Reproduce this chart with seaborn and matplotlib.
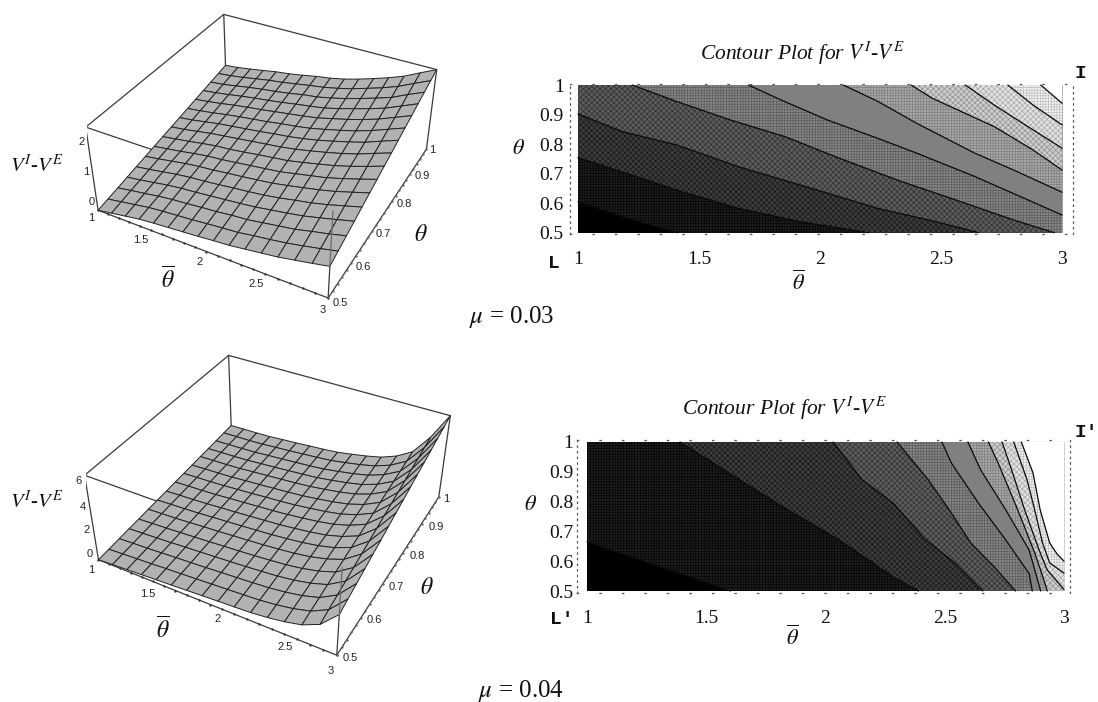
#V^I-V^E surface and contour panels for two values of mu
import numpy as np
import matplotlib
matplotlib.use('Agg')
import matplotlib.pyplot as plt
import seaborn as sns

W, H = 1098, 702

sns.set_theme(style='white', rc={'hatch.linewidth': 0.45, 'mathtext.fontset': 'stix'})
plt.rcParams['font.family'] = ['Liberation Serif', 'DejaVu Sans']

#surface values, rows = theta, columns = theta bar
theta_bar_grid = [1, 1.133, 1.267, 1.4, 1.533, 1.667, 1.8, 1.933, 2.067, 2.2, 2.333, 2.467, 2.6, 2.733, 2.867, 3]
theta_grid = [.5, .533, .567, .6, .633, .667, .7, .733, .767, .8, .833, .867, .9, .933, .967, 1]

v_003 = [
    [-.25, -.17, -.09, -.01, .04, .08, .12, .16, .21, .25, .32, .39, .46, .56, .66, .77],
    [-.19, -.11, -.03, .05, .10, .14, .18, .23, .28, .32, .40, .47, .55, .65, .76, .88],
    [-.13, -.05, .02, .10, .16, .20, .25, .29, .35, .39, .47, .55, .63, .75, .86, .99],
    [-.07, 0, .08, .16, .22, .26, .31, .36, .41, .47, .55, .63, .72, .84, .97, 1.10],
    [-.01, .06, .14, .22, .28, .32, .37, .43, .48, .54, .62, .72, .81, .93, 1.07, 1.21],
    [.05, .12, .20, .28, .34, .38, .44, .49, .55, .61, .70, .80, .90, 1.02, 1.17, 1.32],
    [.11, .18, .25, .33, .40, .44, .50, .56, .62, .68, .78, .88, .98, 1.12, 1.27, 1.43],
    [.17, .24, .31, .39, .46, .50, .56, .63, .69, .75, .85, .96, 1.07, 1.21, 1.37, 1.54],
    [.23, .29, .37, .45, .51, .57, .63, .69, .75, .83, .93, 1.04, 1.16, 1.30, 1.48, 1.65],
    [.29, .35, .43, .51, .57, .63, .69, .76, .82, .90, 1.00, 1.12, 1.25, 1.39, 1.58, 1.76],
    [.35, .41, .48, .56, .63, .69, .75, .83, .89, .97, 1.08, 1.20, 1.33, 1.49, 1.68, 1.87],
    [.41, .47, .54, .62, .69, .75, .82, .89, .96, 1.04, 1.16, 1.28, 1.42, 1.58, 1.78, 1.98],
    [.47, .53, .60, .68, .75, .81, .88, .96, 1.03, 1.11, 1.23, 1.37, 1.51, 1.67, 1.88, 2.09],
    [.53, .58, .66, .74, .81, .87, .94, 1.03, 1.09, 1.19, 1.31, 1.45, 1.60, 1.76, 1.99, 2.20],
    [.59, .64, .71, .79, .87, .93, 1.01, 1.09, 1.16, 1.26, 1.38, 1.53, 1.68, 1.86, 2.09, 2.31],
    [.65, .70, .77, .85, .93, .99, 1.07, 1.16, 1.23, 1.33, 1.46, 1.61, 1.77, 1.95, 2.19, 2.42],
]

v_004 = [
    [-.30, -.23, -.17, -.10, -.03, .03, .10, .17, .24, .30, .37, .51, .71, 1.01, 1.60, 2.90],
    [-.26, -.19, -.13, -.07, .01, .07, .14, .21, .28, .35, .43, .58, .80, 1.13, 1.78, 3.13],
    [-.21, -.15, -.10, -.03, .04, .10, .17, .25, .32, .40, .49, .65, .88, 1.24, 1.96, 3.35],
    [-.17, -.11, -.06, 0, .08, .14, .21, .28, .36, .45, .55, .72, .97, 1.36, 2.14, 3.58],
    [-.13, -.07, -.02, .04, .11, .17, .25, .32, .40, .50, .61, .79, 1.06, 1.47, 2.32, 3.81],
    [-.08, -.03, .01, .07, .15, .21, .29, .36, .44, .55, .67, .86, 1.15, 1.59, 2.50, 4.03],
    [-.04, .01, .05, .10, .18, .25, .32, .40, .48, .60, .73, .93, 1.23, 1.71, 2.68, 4.26],
    [0, .05, .09, .14, .22, .28, .36, .44, .52, .65, .79, .99, 1.32, 1.82, 2.86, 4.49],
    [.05, .09, .12, .17, .25, .32, .40, .47, .57, .70, .85, 1.06, 1.41, 1.94, 3.04, 4.71],
    [.09, .13, .16, .21, .29, .35, .44, .51, .61, .75, .91, 1.13, 1.50, 2.05, 3.22, 4.94],
    [.13, .17, .20, .24, .32, .39, .47, .55, .65, .80, .97, 1.20, 1.58, 2.17, 3.40, 5.17],
    [.18, .21, .23, .27, .36, .43, .51, .59, .69, .85, 1.03, 1.27, 1.67, 2.29, 3.58, 5.39],
    [.22, .25, .27, .31, .39, .46, .55, .63, .73, .90, 1.09, 1.34, 1.76, 2.40, 3.76, 5.62],
    [.26, .29, .31, .34, .43, .50, .58, .66, .77, .95, 1.15, 1.41, 1.85, 2.52, 3.94, 5.85],
    [.31, .33, .34, .38, .46, .53, .62, .70, .81, 1.00, 1.21, 1.48, 1.93, 2.63, 4.12, 6.07],
    [.35, .37, .38, .41, .50, .57, .66, .74, .85, 1.05, 1.27, 1.55, 2.02, 2.75, 4.30, 6.30],
]

#contour lines, (theta bar, theta)
lines_003 = [
    ([1, 1.2, 1.41], [.605, .55, .5]),
    ([1, 1.2, 1.408, 1.664, 1.92, 2.2], [.754, .701, .644, .582, .537, .5]),
    ([1, 1.184, 1.408, 1.664, 1.92, 2.24, 2.48, 2.656], [.902, .842, .797, .723, .661, .582, .537, .5]),
    ([1.224, 1.408, 1.632, 1.856, 2.08, 2.32, 2.56, 2.8, 2.968], [1, .944, .881, .825, .752, .678, .611, .543, .5]),
    ([1.704, 1.84, 2.032, 2.24, 2.4, 2.64, 3], [1, .949, .881, .819, .769, .69, .56]),
    ([2.096, 2.24, 2.4, 2.64, 2.8, 3], [1, .944, .87, .769, .712, .637]),
    ([2.376, 2.464, 2.72, 2.88, 3], [1, .955, .859, .78, .712]),
    ([2.6, 2.72, 2.88, 3], [1, .932, .848, .786]),
    ([2.776, 2.88, 3], [1, .932, .865]),
    ([2.912, 3], [1, .938]),
]

lines_004 = [
    ([1, 1.602], [.665, .5]),
    ([1.39, 1.797, 2.057, 2.285, 2.39], [1, .794, .671, .547, .5]),
    ([2.032, 2.154, 2.285, 2.415, 2.545, 2.659], [1, .873, .794, .676, .592, .5]),
    ([2.30, 2.431, 2.528, 2.61, 2.707, 2.797], [1, .873, .761, .66, .581, .5]),
    ([2.488, 2.528, 2.642, 2.756, 2.854, 2.867], [1, .929, .794, .671, .558, .5]),
    ([2.597, 2.65, 2.756, 2.854, 2.902], [1, .907, .772, .637, .5]),
    ([2.683, 2.724, 2.806, 2.877, 2.906, 2.93], [1, .929, .772, .628, .56, .5]),
    ([2.74, 2.78, 2.835, 2.9, 2.93, 3], [1, .907, .772, .628, .57, .505]),
    ([2.789, 2.845, 2.877, 2.91, 2.94, 3], [1, .873, .772, .661, .594, .56]),
    ([2.821, 2.87, 2.90, 2.94, 2.97, 3], [1, .896, .772, .661, .625, .60]),
]

#band styles, darkest first: face, hatch, hatch colour
bands = [
    ('#000000', None, None),
    ('#1e1e1e', '++++++', '#050505'),
    ('#3c3c3c', 'xxxxxx', '#141414'),
    ('#5c5c5c', 'xxxxxx', '#2c2c2c'),
    ('#868686', '++++++', '#5a5a5a'),
    ('#808080', None, None),
    ('#a8a8a8', '++++++', '#7c7c7c'),
    ('#cccccc', 'xxxxxx', '#8c8c8c'),
    ('#e0e0e0', 'xxxxxx', '#a4a4a4'),
    ('#f2f2f2', '++++++', '#bcbcbc'),
    ('#ffffff', None, None),
]

x_ticks = [1, 1.5, 2, 2.5, 3]
x_tick_labels = ['1', '1.5', '2', '2.5', '3']
y_ticks = [.5, .6, .7, .8, .9, 1]
y_tick_labels = ['0.5', '0.6', '0.7', '0.8', '0.9', '1']

fig = plt.figure(figsize=(W / 100, H / 100), dpi=100)
fig.patch.set_facecolor('white')


def label(px, py, s, **kw):
    #place text by pixel position, measured from the top left
    kw.setdefault('ha', 'center')
    kw.setdefault('va', 'center')
    fig.text(px / W, 1 - py / H, s, **kw)


def draw_contour(rect, xlim, ylim, lines, pad_x, pad_y):
    left, top, right, bottom = rect
    ax = fig.add_axes([left / W, 1 - bottom / H, (right - left) / W, (bottom - top) / H])
    ax.set_xlim(xlim)
    ax.set_ylim(ylim)
    ax.patch.set_alpha(0)
    face, hatch, hc = bands[0]
    ax.fill([1, 3, 3, 1], [.5, .5, 1, 1], facecolor=face, linewidth=0)
    for band, (xs, ys) in zip(bands[1:], lines):
        face, hatch, hc = band
        px, py = list(xs), list(ys)
        #close the region above the line along the plot border
        if py[-1] == .5 and px[-1] < 3:
            px.append(3)
            py.append(.5)
        px.append(3)
        py.append(1)
        if xs[0] == 1:
            px.append(1)
            py.append(1)
        ax.fill(px, py, facecolor=face, hatch=hatch, edgecolor=hc if hc else face, linewidth=0)
    for xs, ys in lines:
        sns.lineplot(x=xs, y=ys, sort=False, estimator=None, color='#0a0a0a', linewidth=0.9, ax=ax, legend=False)
    ax.set_xticks(x_ticks)
    ax.set_xticklabels(x_tick_labels, fontsize=14)
    ax.set_yticks(y_ticks)
    ax.set_yticklabels(y_tick_labels, fontsize=14)
    ax.tick_params(axis='x', length=0, pad=pad_x, colors='#111111')
    ax.tick_params(axis='y', length=0, pad=pad_y, colors='#111111')
    ax.set_xlabel('')
    ax.set_ylabel('')
    for side in ['left', 'right']:
        ax.spines[side].set_linestyle((0, (1, 3.5)))
        ax.spines[side].set_linewidth(0.9)
        ax.spines[side].set_color('#555555')
    for side in ['top', 'bottom']:
        ax.spines[side].set_linestyle((0, (1, 17)))
        ax.spines[side].set_linewidth(0.9)
        ax.spines[side].set_color('#555555')


def draw_surface(rect, view, values, zlim):
    left, low, size = rect
    ax = fig.add_axes([left / W, low / H, size / W, size / H], projection='3d', computed_zorder=False)
    ax.set_axis_off()
    ax.patch.set_alpha(0)
    ax.set_xlim(1, 3, view_margin=0)
    ax.set_ylim(.5, 1, view_margin=0)
    ax.set_zlim(zlim[0], zlim[1], view_margin=0)
    ax.view_init(elev=view[0], azim=view[1])
    ax.set_proj_type('persp', focal_length=view[2])
    ax.set_box_aspect((1, view[3], view[4]))
    z0, z1 = zlim
    edge = dict(color='#3a3a3a', linewidth=0.9)
    #box edges behind the surface
    ax.plot([1, 1], [.5, .5], [z0, z1], zorder=1, **edge)
    ax.plot([1, 1], [.5, 1], [z1, z1], zorder=1, **edge)
    ax.plot([1, 3], [1, 1], [z1, z1], zorder=1, **edge)
    ax.plot([1, 1], [1, 1], [z0, z1], zorder=1, **edge)
    ax.plot([3, 3], [1, 1], [z0, z1], zorder=1, **edge)
    ax.plot([1, 3], [.5, .5], [z1, z1], zorder=1, **edge)
    ax.plot([1, 3], [.5, .5], [z0, z0], zorder=1, **edge)
    ax.plot([3, 3], [.5, 1], [z0, z0], zorder=1, **edge)
    X, Y = np.meshgrid(theta_bar_grid, theta_grid)
    Z = np.array(values)
    ax.plot_surface(X, Y, Z, rstride=1, cstride=1, color='#b2b2b2', edgecolor='#222222', linewidth=0.7,
                    shade=False, antialiased=True, zorder=2)
    #front vertical edge up to the surface corner
    ax.plot([3, 3], [.5, .5], [z0, Z[0, -1]], zorder=3, **edge)
    ax.plot([3, 3], [.5, .5], [Z[0, -1], z1], zorder=3, color='#6a6a6a', linewidth=0.9)
    #tick dots along the edges
    ax.plot(np.arange(1, 3.01, .1), np.full(21, .5), np.full(21, z0), ls='', marker='.', ms=1.4, color='#333333', zorder=4)
    ax.plot(np.full(26, 3), np.arange(.5, 1.001, .02), np.full(26, z0), ls='', marker='.', ms=1.4, color='#666666', zorder=4)


#mu = 0.03
draw_surface((86.5, 379.9, 356.6), (35.88, -61.79, .4599, .9956, .4003), v_003, (-.25, 2.42))
draw_contour((570, 84, 1073, 234), (.967, 3.045), (.4956, 1.0034), lines_003, 12, 4.5)

#mu = 0.04
draw_surface((86.4, 25.3, 369.4), (37.38, -61.46, .4409, .9837, .3992), v_004, (-.3, 6.3))
draw_contour((577, 440, 1070, 593), (.958, 3.025), (.4933, 1.0067), lines_004, 12, 2.5)

serif = ['Liberation Serif', 'DejaVu Sans']
sans = ['Liberation Sans', 'DejaVu Sans']
mono = ['Liberation Mono', 'DejaVu Sans']
vlabel = r'$V^{I}$-$V^{E}$'
theta_s = r'$\theta$'
theta_b = r'$\overline{\theta}$'

#3d tick labels
surface_ticks = [
    (['1', '1.5', '2', '2.5', '3'], [(91, 218), (141, 240), (200, 262), (256, 284), (323, 310)]),
    (['0.5', '0.6', '0.7', '0.8', '0.9', '1'], [(340, 303), (363, 267), (383, 234), (404, 204), (422, 176), (432, 150)]),
    (['0', '1', '2'], [(92, 202), (86, 172), (82, 142)]),
    (['1', '1.5', '2', '2.5', '3'], [(91, 570), (148, 594), (218, 619), (285, 647), (331, 671)]),
    (['0.5', '0.6', '0.7', '0.8', '0.9', '1'], [(350, 658), (374, 620), (396, 587), (417, 556), (436, 527), (446, 499)]),
    (['0', '2', '4', '6'], [(90, 554), (87, 530), (83, 507), (78, 481)]),
]
for names, spots in surface_ticks:
    for s, (px, py) in zip(names, spots):
        label(px, py, s, fontsize=8, family=sans, color='#222222')

label(37, 166, vlabel, fontsize=15, color='#111111')
label(168, 280, theta_b, fontsize=17, color='#111111')
label(421, 235, theta_s, fontsize=17, color='#111111')
label(37, 502, vlabel, fontsize=15, color='#111111')
label(163, 630, theta_b, fontsize=17, color='#111111')
label(427, 589, theta_s, fontsize=17, color='#111111')

title = 'Contour Plot for ' + vlabel
label(802, 53, title, fontsize=15.5, style='italic', family=serif, color='#111111')
label(784, 408, title, fontsize=15.5, style='italic', family=serif, color='#111111')

label(518, 149, theta_s, fontsize=16, color='#111111')
label(798, 283, theta_b, fontsize=16, color='#111111')
label(531, 505, theta_s, fontsize=16, color='#111111')
label(793, 638, theta_b, fontsize=16, color='#111111')

label(1080, 73, 'I', fontsize=14, family=mono, weight='bold', color='#111111')
label(554, 263, 'L', fontsize=14, family=mono, weight='bold', color='#111111')
label(1086, 433, "I'", fontsize=14, family=mono, weight='bold', color='#111111')
label(562, 620, "L'", fontsize=14, family=mono, weight='bold', color='#111111')

label(512, 317, r'$\mu$ = 0.03', fontsize=18, family=serif, color='#111111')
label(521, 691, r'$\mu$ = 0.04', fontsize=18, family=serif, color='#111111')

fig.savefig('out.png', dpi=100)
